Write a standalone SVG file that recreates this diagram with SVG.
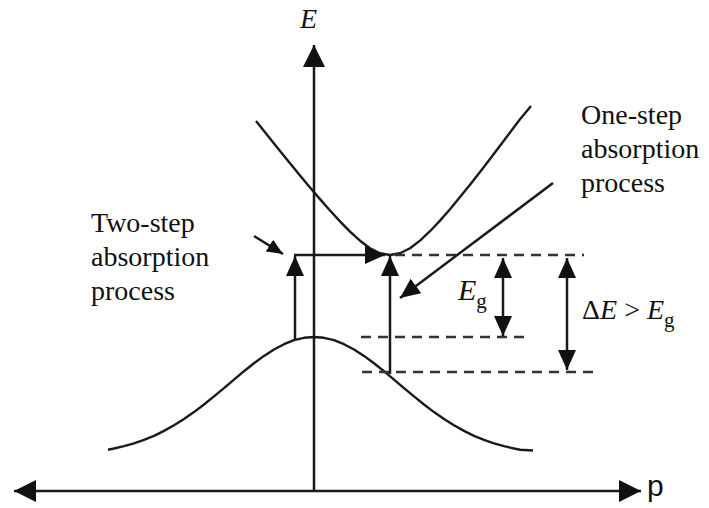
<svg xmlns="http://www.w3.org/2000/svg" width="709" height="508" viewBox="0 0 709 508">
<style>
.ln{stroke:#1a1a1a;stroke-width:2.5;fill:none;stroke-linejoin:round;stroke-linecap:butt}
.cv{stroke:#1a1a1a;stroke-width:2.4;fill:none;stroke-linejoin:round}
.ds{stroke:#333;stroke-width:2.6;fill:none;stroke-dasharray:10 7}
.tx{font-family:"Liberation Serif","Times New Roman",serif;font-size:28px;fill:#111}
.it{font-style:italic}
.sb{font-size:21px}
.sa{font-family:"Liberation Sans",Arial,sans-serif;font-size:30px;fill:#111}
</style>
<defs>
<marker id="ah" viewBox="0 0 20 18" refX="20" refY="9" markerWidth="20" markerHeight="18" orient="auto-start-reverse" markerUnits="userSpaceOnUse"><path d="M0,0 L20,9 L0,18 Z" fill="#111"/></marker>
<marker id="ahL" viewBox="0 0 22 22" refX="22" refY="11" markerWidth="22" markerHeight="22" orient="auto-start-reverse" markerUnits="userSpaceOnUse"><path d="M0,0 L22,11 L0,22 Z" fill="#111"/></marker>
<marker id="ahS" viewBox="0 0 16 14" refX="16" refY="7" markerWidth="16" markerHeight="14" orient="auto" markerUnits="userSpaceOnUse"><path d="M0,0 L16,7 L0,14 Z" fill="#111"/></marker>
</defs>
<g id="axes">
<line class="ln" x1="314" y1="491" x2="314" y2="45" marker-end="url(#ahL)"/>
<line class="ln" x1="14" y1="491" x2="641" y2="491" marker-start="url(#ahL)" marker-end="url(#ahL)"/>
<text class="tx it" x="300" y="28" font-size="29">E</text>
<text class="sa" x="647" y="496">p</text>
</g>
<g id="conduction-band">
<polyline class="cv" points="256,121 270,138.5 280,150.9 290,163.2 300,175.4 310,187.4 320,199.1 330,210.5 340,221.4 350,231.6 360,240.7 370,248.2 380,253.2 390,255 400,253.2 410,248.2 420,240.6 430,231.2 440,220.6 450,209.2 460,197.1 470,184.7 480,171.9 490,159 500,145.8 510,132.5 520,119.2 531,106"/>
</g>
<g id="valence-band">
<polyline class="cv" points="108,449.7 114,448.5 124,446.2 134,443.4 144,439.9 154,435.8 164,430.9 174,425.3 184,419.1 194,412.1 204,404.5 214,396.4 224,388.1 234,379.6 244,371.2 254,363.2 264,355.9 274,349.5 284,344.2 294,340.2 304,337.8 314,337 324,337.8 334,340.2 344,344.2 354,349.5 364,355.9 374,363.2 384,371.2 394,379.6 404,388.1 414,396.4 424,404.5 434,412.1 444,419.1 454,425.3 464,430.9 474,435.8 484,439.9 494,443.4 504,446.2 514,448.5 520,449.7 533,450.5"/>
</g>
<g id="levels">
<line class="ds" x1="395" y1="255" x2="584" y2="255"/>
<line class="ds" x1="361" y1="337" x2="525" y2="337"/>
<line class="ds" x1="362" y1="372" x2="593" y2="372"/>
</g>
<g id="connectors">
<line class="ln" x1="295" y1="339" x2="295" y2="256" marker-end="url(#ah)"/>
<line class="ln" x1="294" y1="255" x2="385" y2="255" marker-end="url(#ah)"/>
<line class="ln" x1="390" y1="374" x2="390" y2="256" marker-end="url(#ah)"/>
<line class="ln" x1="503" y1="258" x2="503" y2="336" marker-start="url(#ah)" marker-end="url(#ah)"/>
<line class="ln" x1="567" y1="258" x2="567" y2="370" marker-start="url(#ah)" marker-end="url(#ah)"/>
<line class="ln" x1="553" y1="183" x2="400" y2="298" marker-end="url(#ah)"/>
<line class="ln" x1="254" y1="236" x2="283" y2="254" marker-end="url(#ahS)"/>
</g>
<g id="two-step-label">
<text class="tx" x="91" y="232">Two-step</text>
<text class="tx" x="91" y="266">absorption</text>
<text class="tx" x="91" y="300">process</text>
</g>
<g id="one-step-label">
<text class="tx" x="581" y="124">One-step</text>
<text class="tx" x="581" y="158">absorption</text>
<text class="tx" x="581" y="192">process</text>
</g>
<g id="eg-label">
<text class="tx" x="458" y="300"><tspan class="it" font-size="30">E</tspan><tspan class="sb" dy="8">g</tspan></text>
</g>
<g id="delta-label">
<text class="tx" x="582" y="319"><tspan>Δ</tspan><tspan class="it">E</tspan><tspan> &gt; </tspan><tspan class="it">E</tspan><tspan class="sb" dy="8">g</tspan></text>
</g>
</svg>
